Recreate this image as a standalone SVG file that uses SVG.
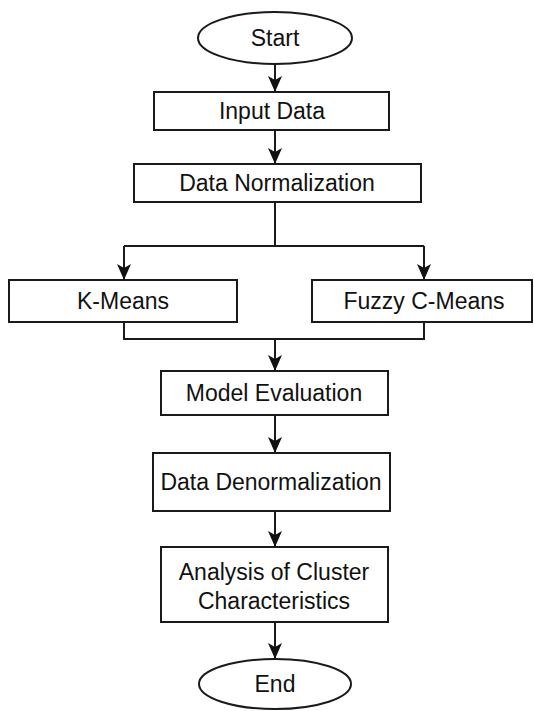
<svg xmlns="http://www.w3.org/2000/svg" width="534" height="711" viewBox="0 0 534 711">
  <style>
    .shape { fill: #ffffff; stroke: #1a1a1a; stroke-width: 2; }
    .edge { fill: none; stroke: #1a1a1a; stroke-width: 2; }
    .label { font-family: "Liberation Sans", Arial, sans-serif; font-size: 23px; fill: #111111; text-anchor: middle; }
  </style>
  <defs>
    <marker id="arrow" markerUnits="userSpaceOnUse" markerWidth="16" markerHeight="14" viewBox="0 0 16 14" refX="15" refY="7" orient="auto">
      <path d="M0,0 L16,7 L0,14 L4,7 Z" fill="#111111"/>
    </marker>
  </defs>
  <rect width="534" height="711" fill="#ffffff"/>

  <!-- connectors -->
  <g id="connectors">
    <path class="edge" d="M275,64 V91" marker-end="url(#arrow)"/>
    <path class="edge" d="M275,130 V163" marker-end="url(#arrow)"/>
    <path class="edge" d="M275,202 V246"/>
    <path class="edge" d="M124,246 H424"/>
    <path class="edge" d="M124,246 V279" marker-end="url(#arrow)"/>
    <path class="edge" d="M424,246 V279" marker-end="url(#arrow)"/>
    <path class="edge" d="M124,322 V339 H424 V322"/>
    <path class="edge" d="M275,339 V370" marker-end="url(#arrow)"/>
    <path class="edge" d="M275,415 V452" marker-end="url(#arrow)"/>
    <path class="edge" d="M275,511 V546" marker-end="url(#arrow)"/>
    <path class="edge" d="M275,622 V658" marker-end="url(#arrow)"/>
  </g>

  <g id="start">
    <ellipse class="shape" cx="275" cy="38" rx="77" ry="26"/>
    <text class="label" x="275" y="46">Start</text>
  </g>
  <g id="input-data">
    <rect class="shape" x="154" y="92" width="235" height="38"/>
    <text class="label" x="272" y="119">Input Data</text>
  </g>
  <g id="data-normalization">
    <rect class="shape" x="134" y="164" width="287" height="38"/>
    <text class="label" x="277" y="191">Data Normalization</text>
  </g>
  <g id="k-means">
    <rect class="shape" x="9" y="280" width="228" height="42"/>
    <text class="label" x="123" y="309">K-Means</text>
  </g>
  <g id="fuzzy-c-means">
    <rect class="shape" x="312" y="280" width="220" height="42"/>
    <text class="label" x="424" y="309">Fuzzy C-Means</text>
  </g>
  <g id="model-evaluation">
    <rect class="shape" x="161" y="371" width="227" height="44"/>
    <text class="label" x="274" y="401">Model Evaluation</text>
  </g>
  <g id="data-denormalization">
    <rect class="shape" x="153" y="453" width="237" height="58"/>
    <text class="label" x="271" y="490">Data Denormalization</text>
  </g>
  <g id="cluster-analysis">
    <rect class="shape" x="161" y="547" width="227" height="75"/>
    <text class="label" x="274" y="580">Analysis of Cluster</text>
    <text class="label" x="274" y="609">Characteristics</text>
  </g>
  <g id="end">
    <ellipse class="shape" cx="275" cy="684" rx="76" ry="25"/>
    <text class="label" x="275" y="692">End</text>
  </g>
</svg>
